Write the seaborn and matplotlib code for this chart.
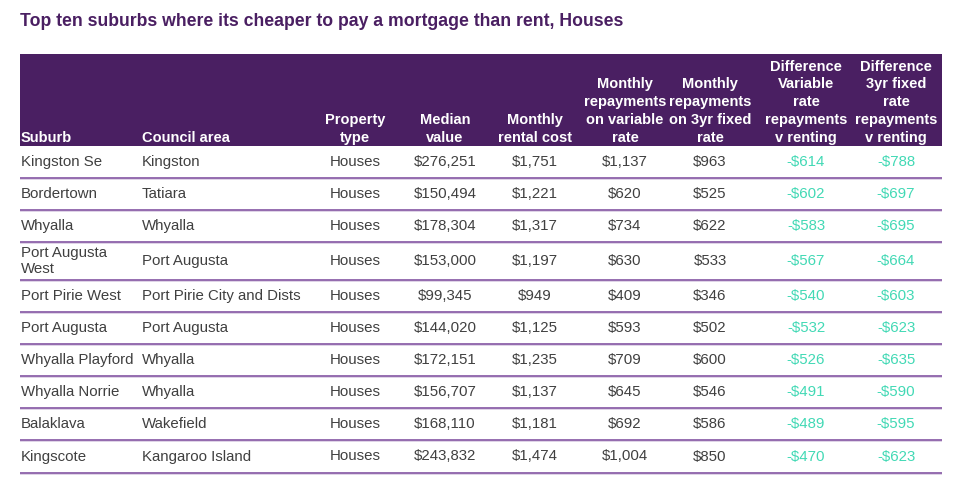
import matplotlib
matplotlib.use("Agg")
import matplotlib.pyplot as plt
import seaborn as sns
from matplotlib.patches import Rectangle

# data
suburbs = ["Kingston Se", "Bordertown", "Whyalla", "Port Augusta\nWest", "Port Pirie West",
           "Port Augusta", "Whyalla Playford", "Whyalla Norrie", "Balaklava", "Kingscote"]
councils = ["Kingston", "Tatiara", "Whyalla", "Port Augusta", "Port Pirie City and Dists",
            "Port Augusta", "Whyalla", "Whyalla", "Wakefield", "Kangaroo Island"]
property_types = ["Houses"] * 10
median_values = [276251, 150494, 178304, 153000, 99345, 144020, 172151, 156707, 168110, 243832]
rental_costs = [1751, 1221, 1317, 1197, 949, 1125, 1235, 1137, 1181, 1474]
variable_repayments = [1137, 620, 734, 630, 409, 593, 709, 645, 692, 1004]
fixed_repayments = [963, 525, 622, 533, 346, 502, 600, 546, 586, 850]
diff_variable = [-614, -602, -583, -567, -540, -532, -526, -491, -489, -470]
diff_fixed = [-788, -697, -695, -664, -603, -623, -635, -590, -595, -623]

headers = ["Suburb", "Council area", "Property\ntype", "Median\nvalue", "Monthly\nrental cost",
           "Monthly\nrepayments\non variable\nrate", "Monthly\nrepayments\non 3yr fixed\nrate",
           "Difference\nVariable\nrate\nrepayments\nv renting",
           "Difference\n3yr fixed\nrate\nrepayments\nv renting"]

def money(v):
    return f"-${abs(v):,}" if v < 0 else f"${v:,}"

sns.set_theme(style="white")
plt.rcParams['font.family'] = ['Liberation Sans', 'DejaVu Sans']

PURPLE = '#4a1f62'
GREY = '#404040'
GREEN = '#42d9b5'
LINE = '#8e62aa'

fig = plt.figure(figsize=(9.6, 4.88), dpi=100)
ax = fig.add_axes([0, 0, 1, 1])
ax.set_xlim(0, 960)
ax.set_ylim(488, 0)
ax.axis('off')

ax.text(20, 22, "Top ten suburbs where its cheaper to pay a mortgage than rent, Houses",
        fontsize=12.7, fontweight='bold', color=PURPLE, ha='left', va='center')

# header band
ax.add_patch(Rectangle((20, 54), 922, 92, color=PURPLE, lw=0))
col_x = [21, 142, 355, 445, 535, 625, 710, 806, 896]
col_ha = ['left', 'left'] + ['center'] * 7
for x, ha, h in zip(col_x, col_ha, headers):
    ax.text(x, 145, h, ha=ha, va='bottom', multialignment='center', color='white',
            fontsize=10.5, fontweight='bold', linespacing=1.35)

# rows
row_edges = [146, 178, 210, 242, 280, 312, 344, 376, 408, 440, 473]
columns = [suburbs, councils, property_types,
           [money(v) for v in median_values], [money(v) for v in rental_costs],
           [money(v) for v in variable_repayments], [money(v) for v in fixed_repayments],
           [money(v) for v in diff_variable], [money(v) for v in diff_fixed]]
colors = [GREY] * 7 + [GREEN] * 2

for i in range(len(suburbs)):
    yc = (row_edges[i] + row_edges[i + 1]) / 2
    for x, ha, col, c in zip(col_x, col_ha, columns, colors):
        ax.text(x, yc, col[i], ha=ha, va='center', color=c, fontsize=10.8, linespacing=1.15)
    ax.hlines(row_edges[i + 1] + 1, 20, 942, color='#d9cce3', lw=1.2)
    ax.hlines(row_edges[i + 1], 20, 942, color=LINE, lw=1.3)

fig.savefig("out.png", dpi=100)
